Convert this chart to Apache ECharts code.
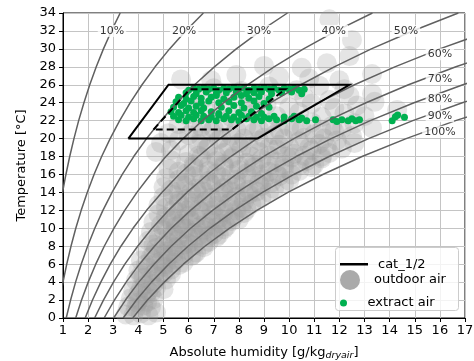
<!DOCTYPE html>
<html>
<head>
<meta charset="utf-8">
<script src="https://cdn.jsdelivr.net/npm/echarts@6/dist/echarts.min.js"></script>
<style>
  html, body { margin: 0; padding: 0; background: #fff; }
  #chart { width: 474px; height: 361px; }
</style>
</head>
<body>
<div id="chart"></div>
<script>
// Temperature steps (°C) at which each relative-humidity curve is tabulated
const tempSteps = [0, 2, 4, 6, 8, 10, 12, 14, 16, 18, 20, 22, 24, 26, 28, 30, 32, 34];

// Absolute humidity (g/kg dry air) of each RH curve at the temperature steps
const rh10  = [0.375, 0.433, 0.499, 0.574, 0.658, 0.753, 0.861, 0.981, 1.116, 1.267, 1.436, 1.623, 1.833, 2.065, 2.324, 2.610, 2.927, 3.276];
const rh20  = [0.751, 0.867, 1.000, 1.149, 1.318, 1.509, 1.724, 1.965, 2.235, 2.538, 2.877, 3.255, 3.676, 4.145, 4.665, 5.241, 5.881, 6.588];
const rh30  = [1.128, 1.302, 1.501, 1.725, 1.979, 2.266, 2.589, 2.952, 3.359, 3.815, 4.326, 4.895, 5.531, 6.237, 7.024, 7.896, 8.863, 9.934];
const rh40  = [1.505, 1.738, 2.003, 2.303, 2.642, 3.025, 3.457, 3.942, 4.487, 5.097, 5.781, 6.544, 7.396, 8.344, 9.400, 10.573, 11.874, 13.316];
const rh50  = [1.882, 2.174, 2.505, 2.881, 3.306, 3.786, 4.327, 4.936, 5.619, 6.385, 7.243, 8.202, 9.272, 10.466, 11.795, 13.272, 14.914, 16.735];
const rh60  = [2.259, 2.610, 3.008, 3.461, 3.971, 4.549, 5.200, 5.932, 6.755, 7.678, 8.712, 9.868, 11.161, 12.602, 14.207, 15.994, 17.982];
const rh70  = [2.637, 3.047, 3.513, 4.041, 4.639, 5.313, 6.075, 6.931, 7.894, 8.976, 10.188, 11.544, 13.059, 14.751, 16.639, 18.740];
const rh80  = [3.016, 3.485, 4.018, 4.622, 5.306, 6.080, 6.952, 7.934, 9.039, 10.279, 11.671, 13.228, 14.970, 16.916, 19.089];
const rh90  = [3.395, 3.923, 4.524, 5.205, 5.976, 6.848, 7.832, 8.941, 10.188, 11.588, 13.160, 14.921, 16.892, 19.095];
const rh100 = [3.775, 4.362, 5.031, 5.789, 6.647, 7.618, 8.715, 9.950, 11.340, 12.902, 14.657, 16.623, 18.826];

const rhNames  = ['10%', '20%', '30%', '40%', '50%', '60%', '70%', '80%', '90%', '100%'];
const rhCurves = [rh10, rh20, rh30, rh40, rh50, rh60, rh70, rh80, rh90, rh100];

// Where each curve's percentage label sits: [humidity, temperature]
const rhLabelAt = [
  [2.95, 32], [5.82, 32], [8.8, 32], [11.78, 32], [14.65, 32],
  [16.0, 29.4], [16.0, 26.65], [16.0, 24.4], [16.0, 22.5], [16.0, 20.75]
];

// Comfort category outlines (corners, closed)
const cat2Hum  = [3.6, 5.2, 12.4, 8.75, 3.6];
const cat2Temp = [20, 26, 26, 20, 20];
const cat1Hum  = [4.6, 6.05, 9.85, 7.72, 4.6];
const cat1Temp = [21, 25.5, 25.5, 21, 21];

// Outdoor air measurements: [humidity g/kg, temperature °C]
const outdoorAir = [
  [3.5,0.4],[3.8,0.3],[4.1,0.5],[4.4,0.3],[4.7,0.6],[3.6,1.3],[3.9,1.1],[4.2,1.4],[4.5,1.2],
  [3.7,2.2],[4.0,2.0],[4.3,2.4],[4.6,2.1],[3.8,3.1],[4.1,3.3],[4.4,3.0],[4.7,3.4],[5.0,3.2],
  [3.9,4.2],[4.2,4.5],[4.5,4.1],[4.8,4.6],[5.1,4.3],[5.3,4.9],[4.0,5.3],[4.4,5.6],[4.7,5.2],[5.0,5.7],[5.3,5.4],[5.6,5.9],
  [4.1,6.4],[4.5,6.8],[4.9,6.3],[5.2,6.9],[5.5,6.5],[5.8,6.2],[6.1,6.9],
  [4.3,7.5],[4.7,7.8],[5.1,7.4],[5.5,7.9],[5.9,7.6],[6.3,7.3],[6.6,7.9],
  [4.4,8.6],[4.8,8.9],[5.2,8.4],[5.6,8.8],[6.0,8.3],[6.4,8.9],[6.8,8.5],[7.1,9.0],
  [4.5,9.6],[5.0,9.8],[5.4,9.4],[5.8,9.9],[6.2,9.5],[6.6,9.8],[7.0,9.4],[7.4,9.9],
  [4.6,10.7],[4.9,10.4],[5.3,10.9],[5.7,10.5],[6.1,10.8],[6.5,10.3],[6.9,10.9],[7.3,10.5],[7.7,10.8],
  [4.8,11.6],[5.1,11.3],[5.6,11.8],[6.0,11.4],[6.5,11.9],[7.0,11.5],[7.4,11.8],[7.8,11.3],[8.2,11.7],
  [4.8,12.6],[5.1,12.3],[5.6,12.8],[6.1,12.4],[6.6,12.9],[7.1,12.5],[7.6,12.8],[8.1,12.3],[8.5,12.7],
  [5.0,13.5],[5.4,13.7],[5.9,13.3],[6.4,13.8],[6.9,13.4],[7.4,13.9],[7.9,13.5],[8.4,13.8],[8.9,13.4],
  [5.0,14.6],[5.3,14.3],[5.8,14.8],[6.3,14.4],[6.9,14.9],[7.4,14.5],[7.9,14.8],[8.4,14.3],[8.9,14.7],[9.4,14.4],
  [5.1,15.6],[5.6,15.4],[6.2,15.8],[6.8,15.3],[7.3,15.7],[7.9,15.4],[8.5,15.9],[9.0,15.5],[9.6,15.8],[10.0,15.3],
  [5.2,16.6],[5.6,16.3],[6.2,16.8],[6.8,16.4],[7.4,16.9],[8.0,16.5],[8.6,16.8],[9.2,16.3],[9.8,16.7],[10.4,16.4],[10.9,16.8],
  [5.3,17.6],[5.9,17.4],[6.5,17.9],[7.1,17.5],[7.7,17.8],[8.3,17.3],[8.9,17.7],[9.5,17.4],[10.1,17.9],[10.7,17.5],[11.3,17.8],
  [4.7,18.5],[5.3,18.7],[6.0,18.3],[6.7,18.8],[7.4,18.4],[8.1,18.9],[8.8,18.5],[9.5,18.8],[10.2,18.3],[10.9,18.7],[11.6,18.4],[12.1,18.9],
  [4.9,19.5],[5.6,19.8],[6.4,19.4],[7.2,19.9],[8.0,19.5],[8.8,19.8],[9.6,19.3],[10.4,19.7],[11.2,19.4],[11.9,19.8],[12.6,19.5],
  [5.2,20.6],[6.0,20.4],[6.9,20.8],[7.7,20.3],[8.6,20.7],[9.4,20.4],[10.2,20.9],[11.0,20.5],[11.8,20.8],[12.5,20.3],
  [5.6,21.6],[6.5,21.3],[7.4,21.8],[8.3,21.4],[9.2,21.7],[10.0,21.3],[10.9,21.8],[11.7,21.4],[12.6,21.7],[13.3,21.2],
  [5.9,22.6],[6.8,22.9],[7.7,22.4],[8.6,22.8],[9.5,22.5],[10.4,22.9],[11.3,22.4],[12.2,22.8],[13.0,22.5],[14.3,23.2],
  [6.3,23.6],[7.3,23.9],[8.2,23.4],[9.1,23.8],[10.0,23.5],[10.9,23.9],[11.8,23.4],[12.7,23.7],[13.4,24.1],
  [6.6,24.5],[7.6,24.8],[8.6,24.4],[9.6,24.9],[10.6,24.6],[11.6,24.3],[12.4,24.8],[13.3,25.0],
  [7.0,25.6],[8.1,25.3],[9.2,25.8],[10.3,25.4],[11.2,25.9],[12.2,25.5],
  [5.7,26.6],[6.9,26.5],[7.9,27.1],[9.6,26.9],[10.8,26.7],[12.0,26.5],[9.0,28.1],[10.5,27.9],
  [11.5,28.4],[12.4,29.2],[12.5,31.0],[11.6,33.3],[13.3,27.2],
  // denser core of the band
  [3.95,1.7],[4.35,1.8],[4.0,2.7],[4.5,2.8],[4.25,3.7],[4.6,3.8],
  [4.1,4.8],[4.6,4.9],[5.0,5.0],[4.3,6.0],[4.7,6.1],[5.1,6.0],[5.4,6.2],[4.6,7.1],[5.0,7.1],[5.4,7.2],[5.8,7.0],[6.2,7.1],
  [4.6,8.2],[5.0,8.1],[5.4,8.0],[5.8,8.2],[6.2,8.1],[6.6,8.2],[5.2,9.1],[5.6,9.2],[6.0,9.0],[6.4,9.2],[6.8,9.1],[7.2,9.3],
  [5.1,10.1],[5.5,10.2],[5.9,10.0],[6.3,10.1],[6.7,10.2],[7.1,10.1],[7.5,10.2],
  [5.4,11.1],[5.8,11.1],[6.3,11.2],[6.7,11.0],[7.2,11.1],[7.6,11.1],[8.0,11.0],
  [5.4,12.1],[5.9,12.0],[6.4,12.1],[6.9,12.0],[7.4,12.1],[7.9,12.0],[8.3,12.1],
  [5.6,13.1],[6.2,13.0],[6.7,13.1],[7.2,13.0],[7.7,13.1],[8.2,13.0],[8.7,13.1],
  [5.6,14.1],[6.1,14.0],[6.6,14.1],[7.2,14.0],[7.7,14.1],[8.2,14.0],[8.7,14.1],[9.2,14.0],
  [5.9,15.1],[6.5,15.0],[7.1,15.1],[7.6,15.0],[8.2,15.1],[8.8,15.0],[9.3,15.1],[9.8,15.0],
  [5.9,16.1],[6.5,16.0],[7.1,16.1],[7.7,16.0],[8.3,16.1],[8.9,16.0],[9.5,16.1],[10.1,16.0],
  [6.2,17.1],[6.8,17.0],[7.4,17.1],[8.0,17.0],[8.6,17.1],[9.2,17.0],[9.8,17.1],[10.4,17.0],[11.0,17.1],
  [6.4,18.1],[7.1,18.0],[7.8,18.1],[8.5,18.0],[9.2,18.1],[9.9,18.0],[10.6,18.1],[11.3,18.0],
  [6.8,19.1],[7.6,19.0],[8.4,19.1],[9.2,19.0],[10.0,19.1],[10.8,19.0],[11.5,19.1],
  [6.5,20.0],[7.3,20.1],[8.2,20.0],[9.0,20.1],[9.8,20.0],[10.6,20.1],[11.4,20.0],
  [6.2,21.0],[7.0,21.1],[7.9,21.0],[8.8,21.1],[9.6,21.0],[10.5,21.1],[11.3,21.0],[12.1,21.1]
];

// Extract air measurements: [humidity g/kg, temperature °C]
const extractAir = [
  [6.0,25.4],[6.2,25.6],[6.4,25.5],[6.6,25.7],[6.8,25.5],[7.0,25.6],[7.2,25.4],[7.4,25.6],[7.6,25.5],[7.8,25.7],
  [8.0,25.5],[8.2,25.6],[8.4,25.4],[8.6,25.6],[8.8,25.5],[9.0,25.7],[9.2,25.5],[9.4,25.6],[9.6,25.4],[9.8,25.6],
  [10.0,25.5],[10.2,25.6],[10.4,25.4],[10.6,25.5],
  [5.9,25.1],[6.3,25.0],[6.7,25.2],[7.1,25.0],[7.5,25.1],[7.9,25.2],[8.3,25.0],[8.6,25.1],[8.9,25.2],[9.3,25.0],[9.7,25.1],[10.1,25.2],[10.5,25.0],
  [5.6,24.6],[5.9,24.4],[6.2,24.7],[6.5,24.5],[6.9,24.6],[7.1,24.8],[7.4,24.4],[7.8,24.6],[8.1,24.8],[8.4,24.5],[8.8,24.7],[9.2,24.4],
  [5.5,24.1],[5.8,23.9],[6.1,24.2],[6.5,24.0],[6.8,24.2],[7.2,24.0],[7.6,24.1],[8.1,24.0],[8.6,24.2],[9.0,23.9],
  [5.4,23.5],[5.7,23.7],[6.0,23.4],[6.3,23.6],[6.6,23.4],[7.3,23.5],[7.8,23.7],[8.2,23.4],[8.7,23.6],[9.2,23.5],
  [5.3,23.0],[5.6,22.9],[5.9,23.1],[6.2,22.9],[6.5,23.1],[6.9,23.0],[7.2,22.8],[7.6,23.1],[8.0,22.9],[8.5,23.0],[8.9,22.8],
  [5.4,22.5],[5.7,22.6],[6.0,22.4],[6.3,22.6],[6.6,22.5],[6.9,22.4],[7.2,22.6],[7.5,22.5],[7.8,22.4],[8.1,22.6],
  [8.4,22.5],[8.7,22.4],[9.0,22.4],[9.4,22.5],[9.8,22.4],[10.2,22.5],[10.5,22.3],
  [5.6,22.1],[5.9,22.0],[6.2,22.2],[6.5,22.0],[6.8,22.1],[7.1,22.0],[7.4,22.2],[7.7,22.1],[8.0,22.0],[8.3,22.2],
  [8.6,22.1],[8.9,22.0],[9.2,22.2],[9.5,22.1],[9.8,22.0],[10.1,22.2],[10.4,22.1],[10.7,22.0],
  [11.05,22.1],[11.75,22.1],[11.9,21.9],[12.1,22.1],[12.35,22.0],[12.5,22.2],[12.65,22.0],[12.8,22.1],
  [14.1,22.0],[14.23,22.44],[14.32,22.63],[14.59,22.37]
];

const FONT = 'DejaVu Sans';
const pairs = (xs, ys) => xs.map((x, i) => [x, ys[i]]);

const series = [];

series.push({
  name: 'outdoor air',
  type: 'scatter',
  data: outdoorAir,
  symbolSize: 20,
  itemStyle: { color: '#999999', opacity: 0.26, borderWidth: 0 },
  z: 1,
  silent: true
});

series.push({
  name: 'extract air',
  type: 'scatter',
  data: extractAir,
  symbolSize: 7,
  itemStyle: { color: '#00b050', opacity: 1, borderWidth: 0 },
  z: 2,
  silent: true
});

rhCurves.forEach((xs, i) => {
  series.push({
    name: 'RH ' + rhNames[i],
    type: 'line',
    data: xs.map((x, k) => [x, tempSteps[k]]),
    symbol: 'none',
    clip: true,
    lineStyle: { color: '#606060', width: 1.5 },
    z: 3,
    silent: true
  });
});

series.push({
  name: 'cat_1/2',
  type: 'line',
  data: pairs(cat2Hum, cat2Temp),
  symbol: 'none',
  itemStyle: { color: '#000' },
  lineStyle: { color: '#000', width: 2, join: 'miter' },
  z: 4,
  silent: true
});
series.push({
  name: 'cat_1/2',
  type: 'line',
  data: pairs(cat1Hum, cat1Temp),
  symbol: 'none',
  itemStyle: { color: '#000' },
  lineStyle: { color: '#000', width: 2, type: [7, 4], join: 'miter' },
  z: 4,
  silent: true
});

// Percentage labels on the RH curves
series.push({
  name: 'RH labels',
  type: 'scatter',
  data: rhLabelAt.map((p, i) => ({ value: p, label: { formatter: rhNames[i] } })),
  symbolSize: 0,
  z: 6,
  silent: true,
  label: {
    show: true,
    position: 'inside',
    color: '#000',
    fontFamily: FONT,
    fontSize: 11,
    backgroundColor: '#fff',
    padding: [1, 2, 0, 2]
  }
});

const legendText = { fontFamily: FONT, fontSize: 13, color: '#000', padding: [0, 0, 0, 5] };
const legendBase = { orient: 'vertical', padding: 0, itemWidth: 28, textStyle: legendText, z: 12 };

const option = {
  animation: false,
  backgroundColor: '#fff',
  textStyle: { fontFamily: FONT },
  grid: {
    left: 63, right: 9, top: 13, bottom: 43,
    outerBoundsMode: 'none',
    containLabel: false,
    show: true, borderColor: '#000', borderWidth: 1, backgroundColor: 'transparent'
  },
  xAxis: {
    type: 'value',
    min: 1, max: 17, interval: 1,
    name: '{m|Absolute humidity [g/kg}{s|dryair}{m|]}',
    nameLocation: 'middle',
    nameGap: 26,
    nameTextStyle: {
      rich: {
        m: { fontFamily: FONT, fontSize: 13, color: '#000' },
        s: { fontFamily: FONT, fontSize: 9.5, fontStyle: 'italic', color: '#000', padding: [7, 0, 0, 0] }
      }
    },
    axisLine: { lineStyle: { color: '#000', width: 1 } },
    axisTick: { inside: false, length: 4, lineStyle: { color: '#000' } },
    axisLabel: { fontFamily: FONT, fontSize: 13, color: '#000', margin: 6 },
    splitLine: { show: true, lineStyle: { color: '#c4c4c4', width: 1 } }
  },
  yAxis: {
    type: 'value',
    min: 0, max: 34, interval: 2,
    name: 'Temperature [°C]',
    nameLocation: 'middle',
    nameGap: 27,
    nameTextStyle: { fontFamily: FONT, fontSize: 13, color: '#000' },
    axisLine: { show: true, lineStyle: { color: '#000', width: 1 } },
    axisTick: { show: true, inside: false, length: 4, lineStyle: { color: '#000' } },
    axisLabel: { fontFamily: FONT, fontSize: 13, color: '#000', margin: 7 },
    splitLine: { show: true, lineStyle: { color: '#c4c4c4', width: 1 } }
  },
  legend: [
    Object.assign({}, legendBase, {
      left: 340, top: 257.75, itemHeight: 2.5,
      data: [{ name: 'cat_1/2', icon: 'rect', itemStyle: { color: '#000', opacity: 1 } }]
    }),
    Object.assign({}, legendBase, {
      left: 340, top: 270, itemHeight: 20,
      data: [{ name: 'outdoor air', icon: 'circle', itemStyle: { color: '#aaaaaa', opacity: 1 } }]
    }),
    Object.assign({}, legendBase, {
      left: 340, top: 296.5, itemHeight: 7,
      data: [{ name: 'extract air', icon: 'circle', itemStyle: { color: '#00b050', opacity: 1 } }]
    })
  ],
  graphic: [{
    type: 'rect',
    shape: { x: 335.5, y: 247.5, width: 123, height: 63, r: 3 },
    style: { fill: 'rgba(255,255,255,0.8)', stroke: '#cccccc', lineWidth: 1 },
    z: 10,
    silent: true
  }],
  series: series
};

const chart = echarts.init(document.getElementById('chart'), null, { renderer: 'canvas' });
chart.setOption(option);
</script>
</body>
</html>
